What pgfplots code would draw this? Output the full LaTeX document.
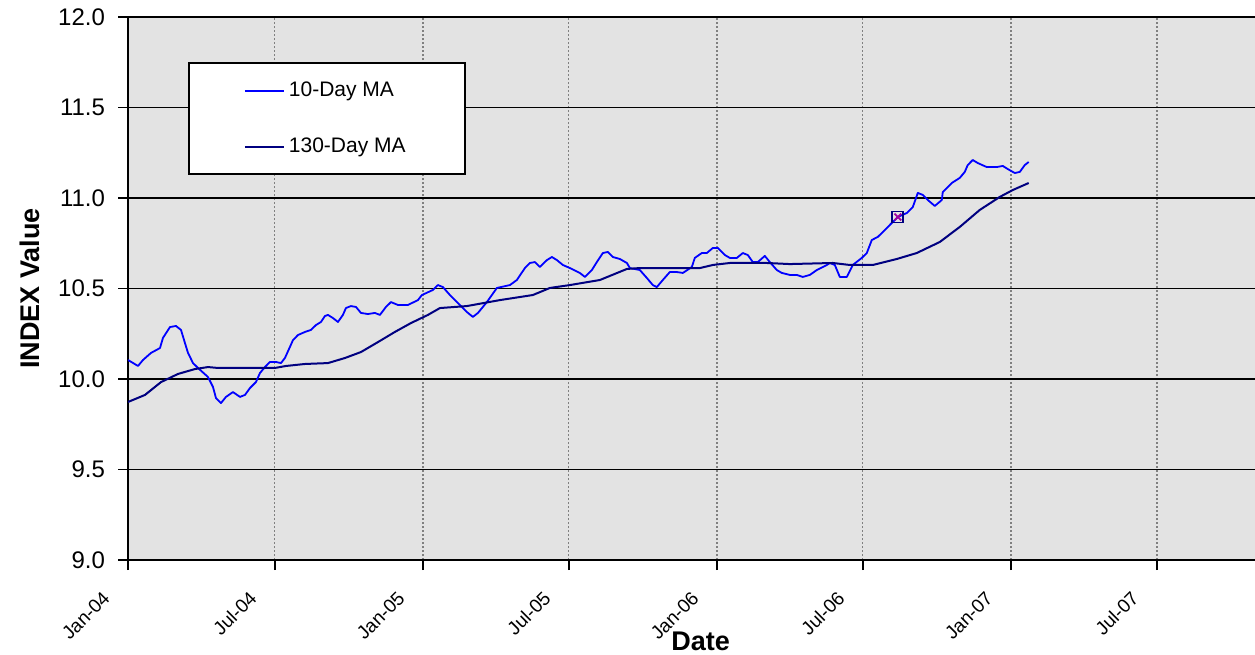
\documentclass[border=0pt]{standalone}
\usepackage{pgfplots}
\pgfplotsset{compat=1.18}
\usepackage{fontspec}
\setmainfont{Liberation Sans}
\definecolor{bgc}{RGB}{227,227,227}
\definecolor{maten}{RGB}{0,0,255}
\definecolor{mathirty}{RGB}{0,0,128}
\definecolor{gridv}{RGB}{128,128,128}
\definecolor{mk}{RGB}{160,0,160}
\begin{document}
\begin{tikzpicture}
\begin{axis}[
  scale only axis, width=563.5pt, height=271.5pt,
  xmin=0, xmax=1399, ymin=9, ymax=12,
  axis background/.style={fill=bgc},
  axis x line*=bottom, axis y line*=left,
  axis line style={line width=1.1pt, black},
  xtick={0,182,366,547,731,912,1096,1277},
  xticklabels={Jan-04,Jul-04,Jan-05,Jul-05,Jan-06,Jul-06,Jan-07,Jul-07},
  ytick={9,9.5,10,10.5,11,11.5,12},
  tick align=outside, major tick length=5pt,
  tick style={black, line width=0.9pt},
  xmajorgrids, ymajorgrids,
  x grid style={gridv, line width=0.8pt, dash pattern=on 1.2pt off 0.8pt},
  y grid style={black, line width=0.8pt},
  /pgf/number format/assume math mode=true,
  yticklabel style={/pgf/number format/fixed, /pgf/number format/fixed zerofill, /pgf/number format/precision=1,
    font=\fontsize{12}{14}\selectfont, anchor=east, xshift=-3pt},
  xticklabel style={font=\fontsize{9.5}{12}\selectfont, rotate=45, anchor=east, xshift=-13pt, yshift=-1.2pt},
  xlabel={Date}, ylabel={INDEX Value},
  xlabel style={font=\fontsize{13.5}{16}\selectfont\bfseries, at={(axis description cs:0.508,-0.149)}, anchor=center},
  ylabel style={font=\fontsize{13.5}{16}\selectfont\bfseries, at={(axis description cs:-0.087,0.5)}, anchor=center},
  legend style={at={(0.0532,0.917)}, anchor=north west, draw=black, line width=1pt, fill=white,
    font=\fontsize{10.5}{12}\selectfont, inner xsep=27.5pt, inner ysep=7.5pt, row sep=15pt,
    cells={anchor=west}},
  legend image code/.code={\draw[#1] (0pt,0pt) -- (19.5pt,0pt);},
]
\addplot[maten, line width=0.9pt, line join=round] coordinates {
(0,10.105) (12.4,10.072) (18.6,10.105) (28.5,10.144) (39.7,10.171) (43.4,10.227) (52.1,10.287) (59.6,10.293)
(65.8,10.271) (70.7,10.199) (74.5,10.144) (80.7,10.088) (86.9,10.061) (99.3,10.011) (105.5,9.956) (109.2,9.895)
(115.4,9.867) (121.6,9.901) (130.3,9.928) (139.0,9.901) (145.2,9.912) (151.4,9.950) (158.8,9.983) (163.8,10.033)
(170.0,10.066) (176.2,10.094) (183.7,10.094) (189.9,10.088) (194.8,10.116) (201.0,10.177) (204.8,10.215) (211.0,10.243)
(219.7,10.260) (227.1,10.271) (233.3,10.298) (239.5,10.315) (244.5,10.348) (248.2,10.354) (254.4,10.337) (260.6,10.315)
(266.8,10.354) (270.5,10.392) (276.7,10.403) (283.0,10.398) (289.2,10.365) (297.8,10.359) (306.5,10.365) (312.7,10.354)
(320.2,10.398) (326.4,10.425) (335.1,10.409) (347.5,10.409) (359.9,10.436) (364.9,10.464) (378.5,10.492) (384.7,10.519)
(390.9,10.508) (399.6,10.464) (409.5,10.420) (420.7,10.370) (428.1,10.343) (434.4,10.365) (445.5,10.425) (457.9,10.503)
(474.1,10.519) (482.7,10.547) (492.7,10.613) (498.9,10.641) (505.1,10.646) (511.3,10.619) (520.0,10.657) (526.2,10.674)
(532.4,10.657) (539.8,10.630) (548.5,10.613) (560.9,10.586) (567.1,10.564) (575.8,10.602) (582.0,10.646) (589.5,10.696)
(595.7,10.702) (601.9,10.674) (610.6,10.663) (619.3,10.641) (623.0,10.613) (635.4,10.602) (644.1,10.558) (651.5,10.519)
(656.5,10.508) (663.9,10.547) (672.6,10.591) (681.3,10.591) (688.8,10.586) (699.9,10.619) (703.6,10.669) (712.3,10.696)
(718.5,10.696) (726.0,10.724) (732.2,10.724) (740.9,10.685) (747.1,10.669) (755.8,10.669) (763.2,10.696) (769.4,10.685)
(775.6,10.646) (781.8,10.646) (790.5,10.680) (796.7,10.646) (805.4,10.602) (811.6,10.586) (821.5,10.575) (830.2,10.575)
(837.7,10.564) (846.4,10.575) (855.0,10.602) (867.5,10.630) (871.2,10.641) (877.4,10.630) (883.6,10.564) (892.3,10.564)
(899.7,10.630) (910.9,10.669) (917.1,10.696) (923.3,10.768) (930.8,10.785) (939.4,10.823) (948.1,10.862) (955.6,10.895)
(966.7,10.917) (974.2,10.950) (980.4,11.028) (986.6,11.017) (992.8,10.989) (1001.5,10.956) (1010.2,10.989) (1011.4,11.033)
(1022.6,11.083) (1032.5,11.111) (1038.7,11.144) (1042.4,11.182) (1048.6,11.210) (1054.9,11.193) (1066.0,11.171) (1078.4,11.171)
(1085.9,11.177) (1092.1,11.160) (1100.8,11.138) (1107.0,11.144) (1113.2,11.182) (1118.1,11.199)
};
\addlegendentry{10-Day MA}
\addplot[mathirty, line width=1pt, line join=round] coordinates {
(0,9.873) (21.1,9.912) (41.0,9.983) (62.1,10.028) (83.1,10.055) (99.3,10.066) (111.7,10.061) (145.2,10.061)
(182.4,10.061) (196.1,10.072) (219.7,10.083) (248.2,10.088) (269.3,10.116) (289.2,10.149) (310.3,10.204) (331.3,10.260)
(351.2,10.309) (372.3,10.354) (387.2,10.392) (420.7,10.403) (461.7,10.436) (502.6,10.464) (523.7,10.503) (548.5,10.519)
(585.8,10.547) (619.3,10.608) (635.4,10.613) (709.9,10.613) (726.0,10.630) (747.1,10.641) (793.0,10.641) (821.5,10.635)
(874.9,10.641) (896.0,10.630) (924.5,10.630) (954.3,10.663) (979.1,10.696) (1007.7,10.757) (1032.5,10.840) (1057.3,10.934)
(1082.2,11.006) (1098.3,11.044) (1118.1,11.083)
};
\addlegendentry{130-Day MA}
\addplot[forget plot, only marks, mark=square, mark size=2.75pt, mark options={draw=mathirty, line width=0.9pt}] coordinates {(955.6,10.895)};
\addplot[forget plot, only marks, mark=x, mark size=2.4pt, mark options={draw=mk, line width=0.9pt}] coordinates {(955.6,10.895)};
\coordinate (SW) at (rel axis cs:0,0);
\coordinate (NE) at (rel axis cs:1,1);
\end{axis}
\pgfresetboundingbox
\path ([shift={(-64pt,-47pt)}]SW) rectangle ([shift={(0pt,8.5pt)}]NE);
\end{tikzpicture}
\end{document}
